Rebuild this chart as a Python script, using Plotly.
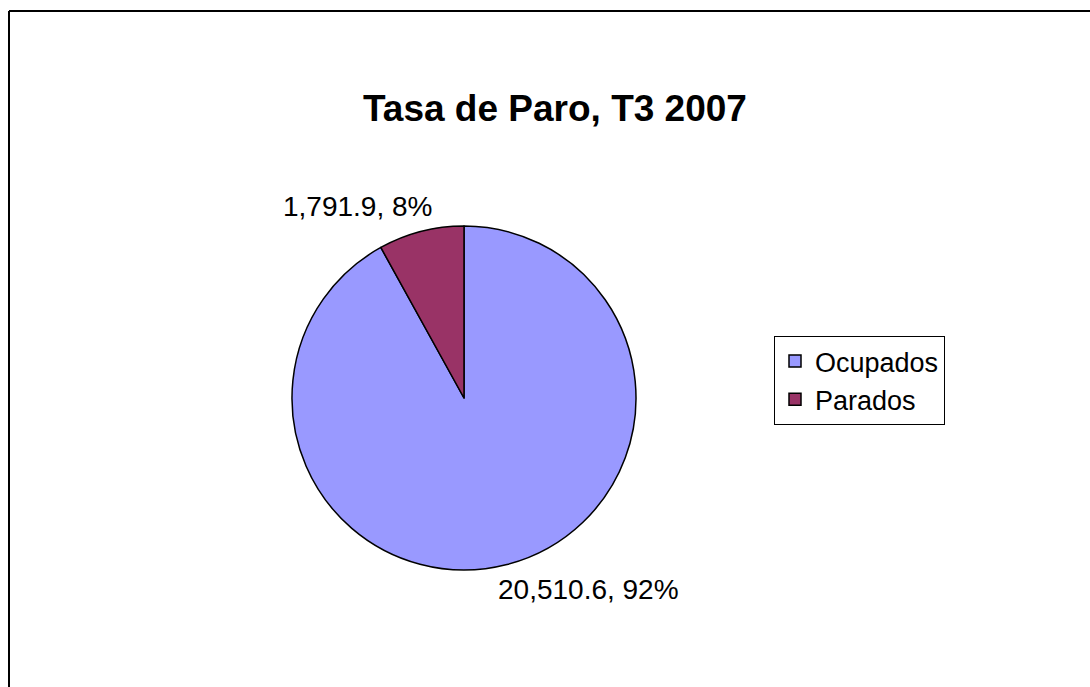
import plotly.graph_objects as go

labels = ["Ocupados", "Parados"]
values = [20510.6, 1791.9]
colors = ["#9999FF", "#993366"]
title = "Tasa de Paro, T3 2007"

W, H = 1090, 687
cx, cy, r = 464, 398, 172

total = sum(values)
texts = [f"{v:,.1f}, {round(100 * v / total)}%" for v in values]

fig = go.Figure()
fig.add_trace(go.Pie(
    labels=labels, values=values, sort=False, direction="clockwise", rotation=0,
    marker=dict(colors=colors, line=dict(color="black", width=1.5)),
    textinfo="none", hoverinfo="label+value+percent",
    domain=dict(x=[(cx - r) / W, (cx + r) / W], y=[1 - (cy + r) / H, 1 - (cy - r) / H]),
))

label_pos = [(588, 589), (357, 207)]
for t, (x, y) in zip(texts, label_pos):
    fig.add_annotation(x=x / W, y=1 - y / H, xref="paper", yref="paper", text=t,
                       showarrow=False, font=dict(size=28, color="black"),
                       xanchor="center", yanchor="middle")

fig.add_annotation(x=555 / W, y=1 - 108 / H, xref="paper", yref="paper",
                   text=f"<b>{title}</b>", showarrow=False,
                   font=dict(size=37, color="black"), xanchor="center", yanchor="middle")

# outer frame (left and top edges visible)
fig.add_shape(type="line", xref="paper", yref="paper", x0=9 / W, x1=1.01, y0=1 - 11 / H, y1=1 - 11 / H,
              line=dict(color="black", width=2))
fig.add_shape(type="line", xref="paper", yref="paper", x0=9 / W, x1=9 / W, y0=-0.01, y1=1 - 11 / H,
              line=dict(color="black", width=2))

fig.update_layout(
    width=W, height=H, margin=dict(l=0, r=0, t=0, b=0),
    paper_bgcolor="white", plot_bgcolor="white",
    font=dict(family="Liberation Sans, Arial, sans-serif", color="black"),
    showlegend=True,
    legend=dict(x=774 / W, y=1 - 336 / H, xanchor="left", yanchor="top",
                bordercolor="black", borderwidth=1, bgcolor="white",
                font=dict(size=27, color="black"), itemwidth=30, tracegroupgap=0),
)

fig.write_html("out.html", config={"displayModeBar": False},
               post_script="document.body.style.margin='0';document.body.style.overflow='hidden';")
